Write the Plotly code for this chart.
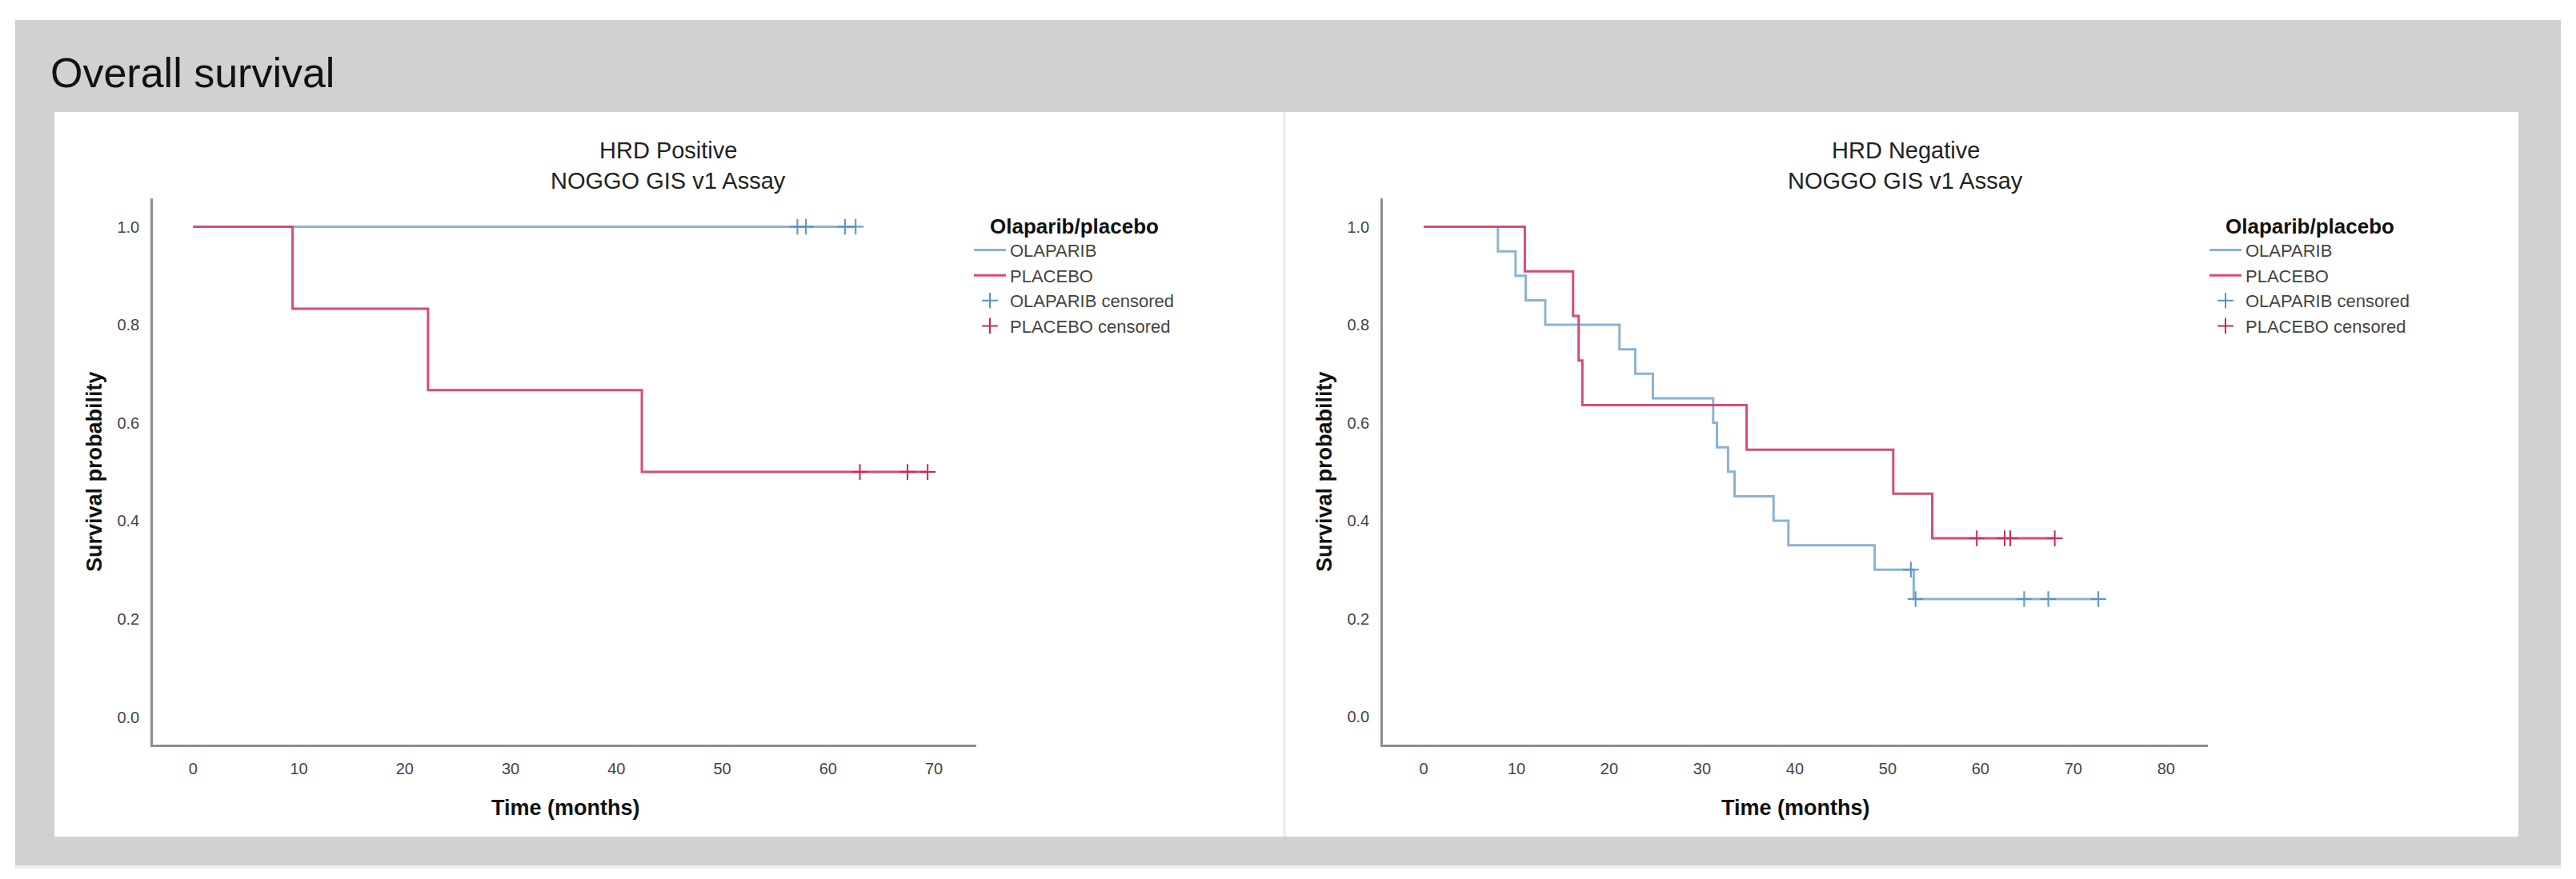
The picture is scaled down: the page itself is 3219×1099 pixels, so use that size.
import plotly.graph_objects as go

# ---------------- data ----------------
# HRD Positive panel
pos_olaparib_event_t = []
pos_olaparib_event_s = []
pos_olaparib_censor = [57.1, 57.9, 61.6, 62.6]
pos_placebo_event_t = [9.4, 22.2, 42.4]
pos_placebo_event_s = [0.833, 0.667, 0.500]
pos_placebo_censor = [63.0, 67.5, 69.4]

# HRD Negative panel
neg_olaparib_event_t = [8.0, 9.9, 11.0, 13.1, 21.1, 22.8, 24.7, 31.2, 31.6, 32.8, 33.5, 37.7, 39.3, 48.6, 52.8]
neg_olaparib_event_s = [0.95, 0.90, 0.85, 0.80, 0.75, 0.70, 0.65, 0.60, 0.55, 0.50, 0.45, 0.40, 0.35, 0.30, 0.24]
neg_olaparib_censor = [52.5, 53.0, 64.7, 67.3, 72.7]
neg_placebo_event_t = [10.9, 16.1, 16.7, 17.1, 34.8, 50.6, 54.8]
neg_placebo_event_s = [0.909, 0.818, 0.727, 0.636, 0.545, 0.455, 0.364]
neg_placebo_censor = [59.6, 62.6, 63.2, 68.0]

x_ticks_pos = [0, 10, 20, 30, 40, 50, 60, 70]
x_ticks_neg = [0, 10, 20, 30, 40, 50, 60, 70, 80]
y_ticks = [0.0, 0.2, 0.4, 0.6, 0.8, 1.0]

panel_titles = [("HRD Positive", "NOGGO GIS v1 Assay"), ("HRD Negative", "NOGGO GIS v1 Assay")]
group_names = ["OLAPARIB", "PLACEBO"]

# ---------------- styling ----------------
PAGE_W, PAGE_H = 3219, 1099
OFF = 8  # default body margin of the html page
W, H = PAGE_W - 2 * OFF, PAGE_H - 2 * OFF
FONT = "Liberation Sans, Arial, Helvetica, sans-serif"
OLAP_LINE = "#8ab3d5"
OLAP_CENS = "#5595cc"
PLAC_LINE = "#d94b72"
PLAC_CENS = "#c92a52"
BG_GRAY = "#d3d0d1"
AXIS_COL = "#8e8e8e"
TICK_COL = "#444444"


def px(x):
    return (x - OFF) / W


def py(y):
    return 1 - (y - OFF) / H


def step_xy(ev_t, ev_s, cens):
    end = max(list(ev_t) + list(cens))
    xs = [0] + list(ev_t) + [end]
    ys = [1.0] + list(ev_s) + [ev_s[-1] if ev_s else 1.0]
    return xs, ys


def surv_at(t, ev_t, ev_s):
    s = 1.0
    for et, es in zip(ev_t, ev_s):
        if et <= t:
            s = es
    return s


fig = go.Figure()

panels = [
    dict(xa="x", ya="y", legend="legend",
         olap=(pos_olaparib_event_t, pos_olaparib_event_s, pos_olaparib_censor),
         plac=(pos_placebo_event_t, pos_placebo_event_s, pos_placebo_censor)),
    dict(xa="x2", ya="y2", legend="legend2",
         olap=(neg_olaparib_event_t, neg_olaparib_event_s, neg_olaparib_censor),
         plac=(neg_placebo_event_t, neg_placebo_event_s, neg_placebo_censor)),
]

for p in panels:
    series = [(group_names[0], p["olap"], OLAP_LINE, OLAP_CENS),
              (group_names[1], p["plac"], PLAC_LINE, PLAC_CENS)]
    for name, (et, es, cs), lc, cc in series:
        xs, ys = step_xy(et, es, cs)
        fig.add_trace(go.Scatter(
            x=xs, y=ys, mode="lines", name=name,
            line=dict(color=lc, width=3, shape="hv"),
            xaxis=p["xa"], yaxis=p["ya"], legend=p["legend"], showlegend=True))
    for name, (et, es, cs), lc, cc in series:
        fig.add_trace(go.Scatter(
            x=cs, y=[surv_at(t, et, es) for t in cs], mode="markers",
            name=name + " censored",
            marker=dict(symbol="cross-thin-open", size=14, color=cc,
                        line=dict(color=cc, width=2)),
            xaxis=p["xa"], yaxis=p["ya"], legend=p["legend"], showlegend=True))

axis_common = dict(showline=True, linecolor=AXIS_COL, linewidth=2.5, showgrid=False,
                   zeroline=False, ticks="", tickfont=dict(family=FONT, size=20, color=TICK_COL),
                   fixedrange=True)

y_dom = [py(931), py(248)]

legend_common = dict(
    xanchor="left", yanchor="top", bgcolor="rgba(0,0,0,0)",
    font=dict(family=FONT, size=22, color="#444444"),
    tracegroupgap=0, itemwidth=40,
    title=dict(text="<b>Olaparib/placebo</b>", font=dict(family=FONT, size=26, color="#111111"),
               side="top center"),
)

fig.update_layout(
    width=W, height=H,
    margin=dict(l=0, r=0, t=0, b=0),
    paper_bgcolor="white",
    plot_bgcolor="rgba(0,0,0,0)",
    font=dict(family=FONT),
    xaxis=dict(domain=[px(191), px(1220)], range=[-3.8, 74.0], tickvals=x_ticks_pos,
               anchor="y", ticklabelstandoff=10, **axis_common),
    yaxis=dict(domain=y_dom, range=[-0.056, 1.058], tickvals=y_ticks, tickformat=".1f",
               anchor="x", ticklabelstandoff=10, **axis_common),
    xaxis2=dict(domain=[px(1728), px(2759)], range=[-4.4, 84.5], tickvals=x_ticks_neg,
                anchor="y2", ticklabelstandoff=10, **axis_common),
    yaxis2=dict(domain=y_dom, range=[-0.057, 1.058], tickvals=y_ticks, tickformat=".1f",
                anchor="x2", ticklabelstandoff=10, **axis_common),
    legend=dict(x=px(1212), y=py(258), **legend_common),
    legend2=dict(x=px(2756), y=py(258), **legend_common),
)

shapes = [
    dict(type="rect", xref="paper", yref="paper", x0=px(19), x1=px(3200), y0=py(1082), y1=py(25),
         fillcolor=BG_GRAY, line=dict(width=0), layer="below"),
    dict(type="rect", xref="paper", yref="paper", x0=px(19), x1=px(3200), y0=py(1086), y1=py(1082),
         fillcolor="#ececec", line=dict(width=0), layer="below"),
    dict(type="rect", xref="paper", yref="paper", x0=px(68), x1=px(3147), y0=py(1046), y1=py(140),
         fillcolor="white", line=dict(width=0), layer="below"),
    dict(type="line", xref="paper", yref="paper", x0=px(1605), x1=px(1605), y0=py(1046), y1=py(140),
         line=dict(color="#ebebeb", width=3), layer="below"),
]
fig.update_layout(shapes=shapes)

ann = []
ann.append(dict(text="Overall survival", x=px(61), y=py(91), xref="paper", yref="paper",
                xanchor="left", yanchor="middle", showarrow=False,
                font=dict(family=FONT, size=52, color="#111111")))
for (t1, t2), cx in zip(panel_titles, [835, 2381]):
    ann.append(dict(text=t1, x=px(cx), y=py(188), xref="paper", yref="paper",
                    xanchor="center", yanchor="middle", showarrow=False,
                    font=dict(family=FONT, size=29, color="#222222")))
    ann.append(dict(text=t2, x=px(cx), y=py(226), xref="paper", yref="paper",
                    xanchor="center", yanchor="middle", showarrow=False,
                    font=dict(family=FONT, size=29, color="#222222")))
for ax_x in [118, 1655]:
    ann.append(dict(text="<b>Survival probability</b>", x=px(ax_x), y=py(590), xref="paper",
                    yref="paper", xanchor="center", yanchor="middle", textangle=-90,
                    showarrow=False, font=dict(family=FONT, size=27, color="#111111")))
for cx in [707, 2244]:
    ann.append(dict(text="<b>Time (months)</b>", x=px(cx), y=py(1010), xref="paper",
                    yref="paper", xanchor="center", yanchor="middle", showarrow=False,
                    font=dict(family=FONT, size=27, color="#111111")))
fig.update_layout(annotations=ann)

fig.write_html("out.html")
